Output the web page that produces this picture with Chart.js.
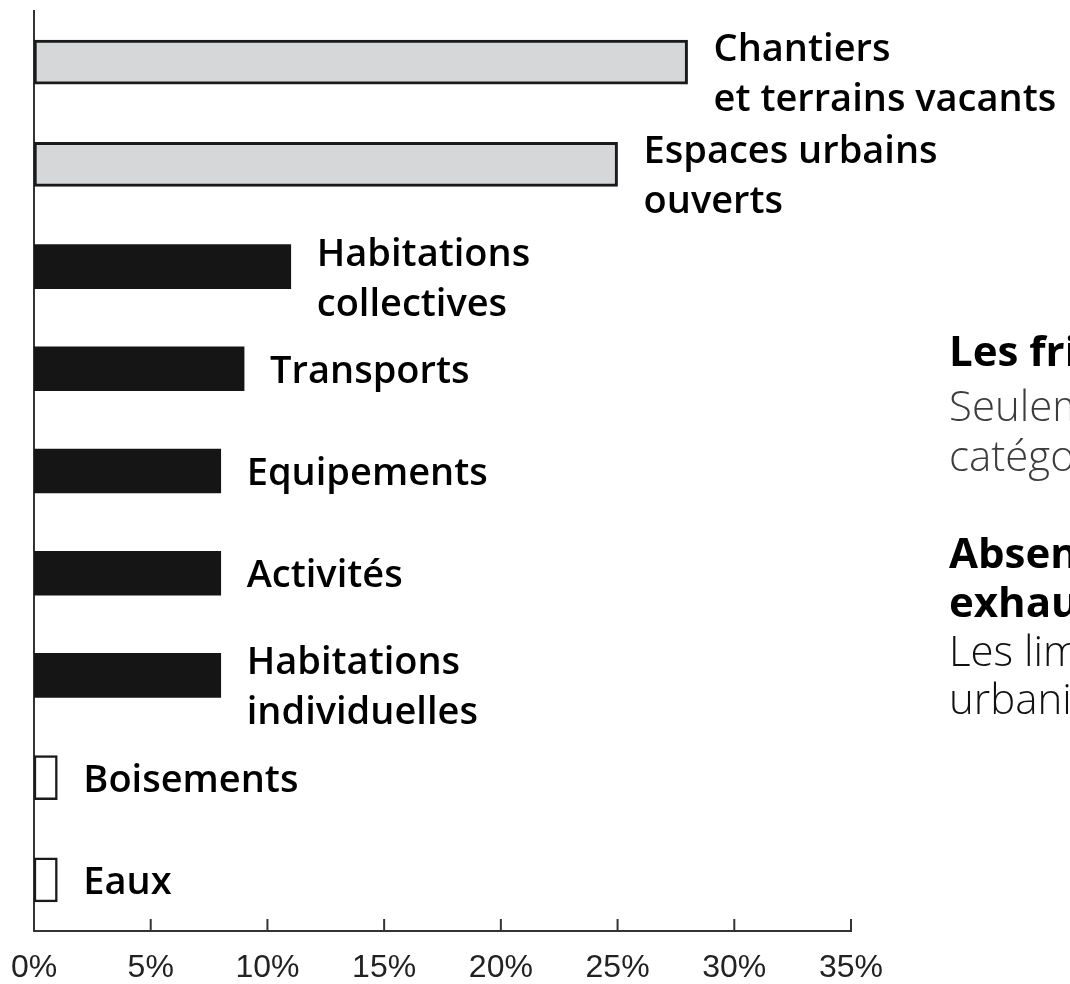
<!DOCTYPE html>
<html lang="fr">
<head>
<meta charset="utf-8">
<title>Friches urbaines</title>
<script src="https://cdn.jsdelivr.net/npm/chart.js@4.4.1/dist/chart.umd.min.js"></script>
<style>
  html, body { margin: 0; padding: 0; background: #fff; overflow: hidden; }
  body { width: 1070px; height: 984px; position: relative; font-family: 'Open Sans', sans-serif; }
  #chart { position: absolute; left: 0; top: 0; }
  .note { position: absolute; left: 949px; white-space: nowrap; font-size: 42px; line-height: 1; }
  .head { font-weight: 700; color: #000; }
  .light { font-weight: 300; color: #3c3c3c; }
  .dark { font-weight: 300; color: #111; }
</style>
</head>
<body>
<canvas id="chart" width="1070" height="984"></canvas>

<div class="note head" style="top:329px">Les friches urbaines</div>
<div class="note light" style="top:384px">Seulement les deux premières</div>
<div class="note light" style="top:434px">catégories relèvent des friches</div>
<div class="note head" style="top:531px">Absence de recensement</div>
<div class="note head" style="top:580px">exhaustif</div>
<div class="note dark" style="top:629px">Les limites des espaces</div>
<div class="note dark" style="top:677px">urbanisés restent floues</div>

<script>
// categories, top to bottom
const categories = [
  ['Chantiers', 'et terrains vacants'],
  ['Espaces urbains', 'ouverts'],
  ['Habitations', 'collectives'],
  'Transports',
  'Equipements',
  'Activités',
  ['Habitations', 'individuelles'],
  'Boisements',
  'Eaux',
];
// share of each category (%)
const shares = [28, 25, 11, 9, 8, 8, 8, 1, 1];
// kind of land use for each category
const kinds = ['friche', 'friche', 'bati', 'bati', 'bati', 'bati', 'bati', 'naturel', 'naturel'];
const xTicks = [0, 5, 10, 15, 20, 25, 30, 35];

const fills = { friche: '#d6d7d9', bati: '#151515', naturel: '#ffffff' };
const borders = { friche: 3, bati: 0, naturel: 2.5 };

// category names written to the right of each bar
const barLabels = {
  id: 'barLabels',
  afterDatasetsDraw(chart) {
    const ctx = chart.ctx;
    const meta = chart.getDatasetMeta(0);
    ctx.save();
    ctx.font = '600 38px "Open Sans"';
    ctx.fillStyle = '#000';
    ctx.textAlign = 'left';
    ctx.textBaseline = 'alphabetic';
    meta.data.forEach((bar, i) => {
      const lines = [].concat(categories[i]);
      const first = lines.length > 1 ? bar.y - 1 : bar.y + 14;
      lines.forEach((line, j) => ctx.fillText(line, bar.x + 26, first + j * 50));
    });
    ctx.restore();
  }
};

// tick marks pointing up into the plot
const innerTicks = {
  id: 'innerTicks',
  afterDraw(chart) {
    const x = chart.scales.x;
    const ctx = chart.ctx;
    ctx.save();
    ctx.strokeStyle = '#333';
    ctx.lineWidth = 2;
    x.ticks.forEach(t => {
      const px = x.getPixelForValue(t.value);
      ctx.beginPath();
      ctx.moveTo(px, x.top);
      ctx.lineTo(px, x.top - 12);
      ctx.stroke();
    });
    ctx.restore();
  }
};

function draw() {
  new Chart(document.getElementById('chart'), {
    type: 'bar',
    data: {
      labels: categories,
      datasets: [{
        data: shares,
        backgroundColor: kinds.map(k => fills[k]),
        borderColor: '#1a1a1a',
        borderWidth: kinds.map(k => borders[k]),
        borderSkipped: false,
        barThickness: 44,
      }],
    },
    options: {
      indexAxis: 'y',
      responsive: false,
      animation: false,
      layout: { padding: { top: 11, left: 34, right: 219, bottom: 0 } },
      plugins: { legend: { display: false }, tooltip: { enabled: false } },
      scales: {
        x: {
          min: xTicks[0],
          max: xTicks[xTicks.length - 1],
          afterBuildTicks: s => { s.ticks = xTicks.map(v => ({ value: v })); },
          ticks: {
            callback: v => v + '%',
            font: { family: '"Liberation Sans", Arial', size: 32 },
            color: '#222',
            padding: 18,
            maxRotation: 0,
          },
          grid: { display: false, drawTicks: false },
          border: { display: true, color: '#333', width: 2 },
          afterFit: s => { s.height = 53; s.paddingLeft = 0; s.paddingRight = 0; },
        },
        y: {
          ticks: { display: false },
          grid: { display: false, drawTicks: false },
          border: { display: true, color: '#333', width: 2 },
          afterFit: s => { s.width = 0; s.paddingTop = 0; s.paddingBottom = 0; },
        },
      },
    },
    plugins: [barLabels, innerTicks],
  });
}

Promise.all([
  document.fonts.load('600 38px "Open Sans"'),
  document.fonts.load('32px "Liberation Sans"'),
]).then(draw, draw);
</script>
</body>
</html>
